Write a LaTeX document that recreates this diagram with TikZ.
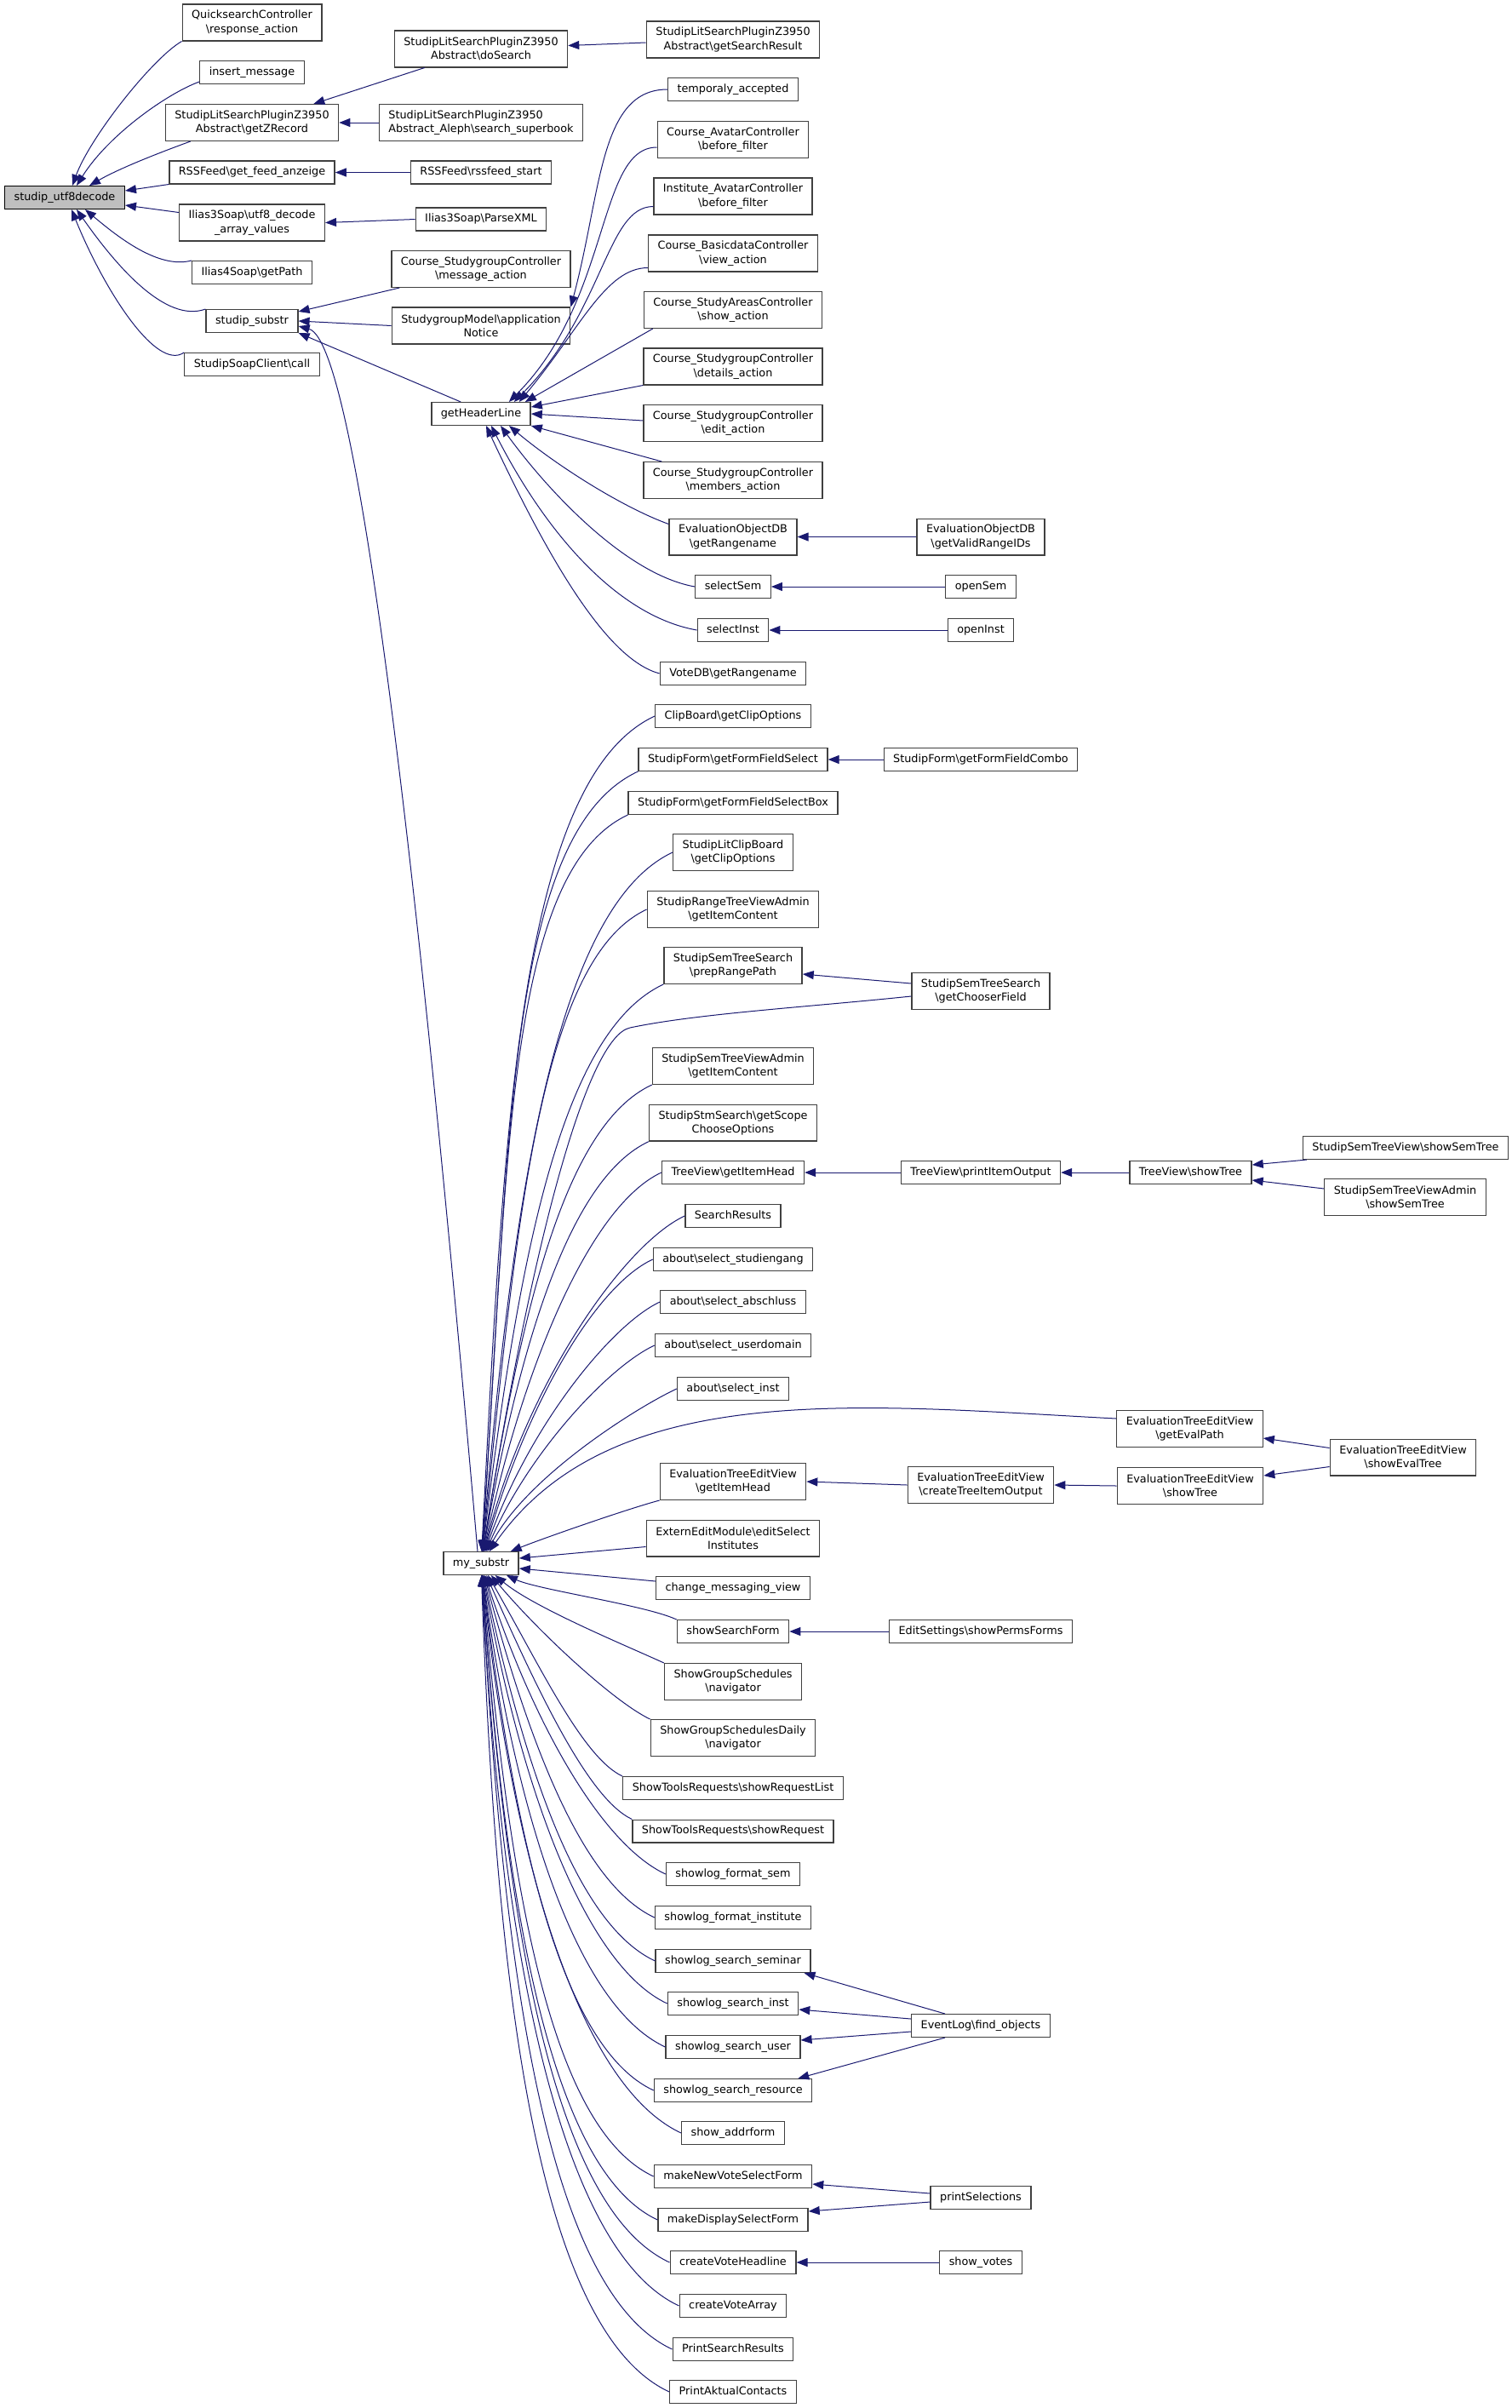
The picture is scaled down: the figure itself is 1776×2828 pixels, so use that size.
\documentclass[tikz,border=0pt]{standalone}
\usepackage{fontspec}
\setmainfont{DejaVu Sans}
\usepackage{tikz}
\usetikzlibrary{arrows.meta}
\definecolor{EdgeBlue}{RGB}{25,25,112}
\definecolor{FocusGray}{RGB}{191,191,191}

\begin{document}
\begin{tikzpicture}[
		x=0.25pt, y=0.25pt,
		% function box
		funcBox/.style={
			draw=black!75,
			fill=white,
			line width=0.33pt,
			inner xsep=2.75pt,
			inner ysep=0pt,
			font=\fontsize{3.2}{4.075}\selectfont
		},
		oneLine/.style={funcBox, minimum height=6.675pt, text height=2.4pt, text depth=0.8pt},
		twoLine/.style={funcBox, align=center, minimum height=10.675pt},
		callEdge/.style={draw=EdgeBlue, line width=0.25pt, -{Triangle[length=3.25pt,width=2.5pt]}}
		]
		\useasboundingbox (0,0) rectangle (1776,-2828);
		
		% focus function
		\node[oneLine, fill=FocusGray, draw=black] (utf8dec) at (76,-232) {studip\_utf8decode};
		
		% first column of callers
		\node[twoLine] (qs) at (296,-26.5) {QuicksearchController\\\textbackslash response\_action};
		\node[oneLine] (insmsg) at (296,-85) {insert\_message};
		\node[twoLine] (zrec) at (296,-144) {StudipLitSearchPluginZ3950\\Abstract\textbackslash getZRecord};
		\node[oneLine] (feed) at (296,-202.5) {RSSFeed\textbackslash get\_feed\_anzeige};
		\node[twoLine] (decarr) at (296,-261.5) {Ilias3Soap\textbackslash utf8\_decode\\\_array\_values};
		\node[oneLine] (ipath) at (296,-320) {Ilias4Soap\textbackslash getPath};
		\node[oneLine] (substr) at (296,-377) {studip\_substr};
		\node[oneLine] (soapcall) at (296,-428) {StudipSoapClient\textbackslash call};
		
		% second column
		\node[twoLine] (dosearch) at (565,-57.5) {StudipLitSearchPluginZ3950\\Abstract\textbackslash doSearch};
		\node[twoLine, align=left] (superbook) at (565,-144) {StudipLitSearchPluginZ3950\\Abstract\_Aleph\textbackslash search\_superbook};
		\node[oneLine] (rssstart) at (565,-202.5) {RSSFeed\textbackslash rssfeed\_start};
		\node[oneLine] (parsexml) at (565,-257.5) {Ilias3Soap\textbackslash ParseXML};
		\node[twoLine] (msgact) at (565,-316) {Course\_StudygroupController\\\textbackslash message\_action};
		\node[twoLine] (appnotice) at (565,-382.5) {StudygroupModel\textbackslash application\\Notice};
		\node[oneLine] (header) at (565,-486) {getHeaderLine};
		\node[oneLine] (mysubstr) at (565,-1836) {my\_substr};
		
		% third column
		\node[twoLine] (searchres) at (861,-46.5) {StudipLitSearchPluginZ3950\\Abstract\textbackslash getSearchResult};
		\node[oneLine] (tempacc) at (861,-105) {temporaly\_accepted};
		\node[twoLine] (cavatar) at (861,-164) {Course\_AvatarController\\\textbackslash before\_filter};
		\node[twoLine] (iavatar) at (861,-230.5) {Institute\_AvatarController\\\textbackslash before\_filter};
		\node[twoLine] (basicdata) at (861,-297.5) {Course\_BasicdataController\\\textbackslash view\_action};
		\node[twoLine] (studyareas) at (861,-364) {Course\_StudyAreasController\\\textbackslash show\_action};
		\node[twoLine] (sgdetails) at (861,-430.5) {Course\_StudygroupController\\\textbackslash details\_action};
		\node[twoLine] (sgedit) at (861,-497) {Course\_StudygroupController\\\textbackslash edit\_action};
		\node[twoLine] (sgmembers) at (861,-564) {Course\_StudygroupController\\\textbackslash members\_action};
		\node[twoLine] (evalrange) at (861,-630.5) {EvaluationObjectDB\\\textbackslash getRangename};
		\node[oneLine] (selsem) at (861,-689) {selectSem};
		\node[oneLine] (selinst) at (861,-740) {selectInst};
		\node[oneLine] (voterange) at (861,-791) {VoteDB\textbackslash getRangename};
		\node[oneLine] (clipopt) at (861,-841) {ClipBoard\textbackslash getClipOptions};
		\node[oneLine] (fieldsel) at (861,-892) {StudipForm\textbackslash getFormFieldSelect};
		\node[oneLine] (fieldselbox) at (861,-943) {StudipForm\textbackslash getFormFieldSelectBox};
		\node[twoLine] (litclip) at (861,-1001) {StudipLitClipBoard\\\textbackslash getClipOptions};
		\node[twoLine] (rangecontent) at (861,-1068) {StudipRangeTreeViewAdmin\\\textbackslash getItemContent};
		\node[twoLine] (preppath) at (861,-1134) {StudipSemTreeSearch\\\textbackslash prepRangePath};
		\node[twoLine] (semcontent) at (861,-1252) {StudipSemTreeViewAdmin\\\textbackslash getItemContent};
		\node[twoLine] (scopeopt) at (861,-1318.7) {StudipStmSearch\textbackslash getScope\\ChooseOptions};
		\node[oneLine] (itemhead) at (861,-1377) {TreeView\textbackslash getItemHead};
		\node[oneLine] (searchresults) at (861,-1428) {SearchResults};
		\node[oneLine] (selstudg) at (861,-1479) {about\textbackslash select\_studiengang};
		\node[oneLine] (selabschl) at (861,-1529) {about\textbackslash select\_abschluss};
		\node[oneLine] (seldomain) at (861,-1580) {about\textbackslash select\_userdomain};
		\node[oneLine] (selabinst) at (861,-1631) {about\textbackslash select\_inst};
		\node[twoLine] (evalhead) at (861,-1740) {EvaluationTreeEditView\\\textbackslash getItemHead};
		\node[twoLine] (editinst) at (861,-1806.5) {ExternEditModule\textbackslash editSelect\\Institutes};
		\node[oneLine] (msgview) at (861,-1865) {change\_messaging\_view};
		\node[oneLine] (searchform) at (861,-1916) {showSearchForm};
		\node[twoLine] (grpnav) at (861,-1975) {ShowGroupSchedules\\\textbackslash navigator};
		\node[twoLine] (grpdaily) at (861,-2041) {ShowGroupSchedulesDaily\\\textbackslash navigator};
		\node[oneLine] (reqlist) at (861,-2100) {ShowToolsRequests\textbackslash showRequestList};
		\node[oneLine] (request) at (861,-2150.5) {ShowToolsRequests\textbackslash showRequest};
		\node[oneLine] (fmtsem) at (861,-2201) {showlog\_format\_sem};
		\node[oneLine] (fmtinst) at (861,-2252) {showlog\_format\_institute};
		\node[oneLine] (srchsem) at (861,-2303) {showlog\_search\_seminar};
		\node[oneLine] (srchinst) at (861,-2353) {showlog\_search\_inst};
		\node[oneLine] (srchuser) at (861,-2404) {showlog\_search\_user};
		\node[oneLine] (srchres) at (861,-2455) {showlog\_search\_resource};
		\node[oneLine] (addrform) at (861,-2505) {show\_addrform};
		\node[oneLine] (newvote) at (861,-2556) {makeNewVoteSelectForm};
		\node[oneLine] (dispsel) at (861,-2607) {makeDisplaySelectForm};
		\node[oneLine] (voteheadline) at (861,-2657) {createVoteHeadline};
		\node[oneLine] (votearray) at (861,-2708) {createVoteArray};
		\node[oneLine] (printsearch) at (861,-2759) {PrintSearchResults};
		\node[oneLine] (printcontacts) at (861,-2809) {PrintAktualContacts};
		
		% fourth column
		\node[twoLine] (validrange) at (1152,-630.5) {EvaluationObjectDB\\\textbackslash getValidRangeIDs};
		\node[oneLine] (opensem) at (1152,-689) {openSem};
		\node[oneLine] (openinst) at (1152,-740) {openInst};
		\node[oneLine] (fieldcombo) at (1152,-892) {StudipForm\textbackslash getFormFieldCombo};
		\node[twoLine] (chooser) at (1152,-1164) {StudipSemTreeSearch\\\textbackslash getChooserField};
		\node[oneLine] (printitem) at (1152,-1377) {TreeView\textbackslash printItemOutput};
		\node[twoLine] (treeitem) at (1152,-1744) {EvaluationTreeEditView\\\textbackslash createTreeItemOutput};
		\node[oneLine] (permsforms) at (1152,-1916) {EditSettings\textbackslash showPermsForms};
		\node[oneLine] (findobj) at (1152,-2379) {EventLog\textbackslash find\_objects};
		\node[oneLine] (printsel) at (1152,-2581) {printSelections};
		\node[oneLine] (showvotes) at (1152,-2657) {show\_votes};
		
		% fifth and sixth columns
		\node[oneLine] (showtree) at (1398.5,-1377) {TreeView\textbackslash showTree};
		\node[twoLine] (evalpath) at (1397.5,-1678) {EvaluationTreeEditView\\\textbackslash getEvalPath};
		\node[twoLine] (evaltree) at (1398,-1745) {EvaluationTreeEditView\\\textbackslash showTree};
		\node[oneLine] (semtree) at (1651,-1348) {StudipSemTreeView\textbackslash showSemTree};
		\node[twoLine] (admsemtree) at (1650.5,-1406) {StudipSemTreeViewAdmin\\\textbackslash showSemTree};
		\node[twoLine] (evalshow) at (1648,-1711.5) {EvaluationTreeEditView\\\textbackslash showEvalTree};
		
		% calls into studip_utf8decode
		\draw[callEdge] (qs.south west) to[out=210, in=70, out distance=10pt, in distance=15pt] ([shift={(9,0)}]utf8dec.north);
		\draw[callEdge] ([shift={(0,3)}]insmsg.south west) to[out=200, in=58, out distance=10pt, in distance=17.5pt] ([shift={(14,0)}]utf8dec.north);
		\draw[callEdge] ([shift={(30,0)}]zrec.south west) to[out=200, in=30, out distance=10pt, in distance=10pt] ([shift={(29,0)}]utf8dec.north);
		\draw[callEdge] (feed.south west) -- ([shift={(0,8)}]utf8dec.east);
		\draw[callEdge] ([shift={(0,12)}]decarr.west) -- ([shift={(0,-9)}]utf8dec.east);
		\draw[callEdge] (ipath.north west) to[out=195, in=-40, out distance=10pt, in distance=12.5pt] ([shift={(24,0)}]utf8dec.south);
		\draw[callEdge] (substr.north west) to[out=200, in=-55, out distance=12.5pt, in distance=20pt] ([shift={(14,0)}]utf8dec.south);
		\draw[callEdge] (soapcall.north west) to[out=215, in=-68, out distance=10pt, in distance=25pt] ([shift={(8,0)}]utf8dec.south);
		
		% second level calls
		\draw[callEdge] ([shift={(36,0)}]dosearch.south west) -- ([shift={(-30,0)}]zrec.north east);
		\draw[callEdge] (superbook.west) -- (zrec.east);
		\draw[callEdge] ([shift={(0,-3.5)}]searchres.west) -- ([shift={(0,4)}]dosearch.east);
		\draw[callEdge] (rssstart) -- (feed);
		\draw[callEdge] (parsexml.west) -- (decarr.east);
		\draw[callEdge] ([shift={(10,0)}]msgact.south west) -- ([shift={(0,-3)}]substr.north east);
		\draw[callEdge] (appnotice.west) -- (substr.east);
		\draw[callEdge] ([shift={(35,0)}]header.north west) -- (substr.south east);
		\draw[callEdge] ([shift={(-4,0)}]mysubstr.north) to[out=95, in=-15, out distance=150pt, in distance=20pt] ([shift={(0,-6)}]substr.east);
		\draw[callEdge] (tempacc.west) to[out=180, in=75, out distance=20pt, in distance=35pt] (appnotice.north east);
		
		% calls into getHeaderLine
		\draw[callEdge] ([shift={(0,-9)}]cavatar.west) to[out=180, in=45, out distance=17.5pt, in distance=42.5pt] ([shift={(-26,0)}]header.north east);
		\draw[callEdge] ([shift={(0,-12)}]iavatar.west) to[out=180, in=45, out distance=13.75pt, in distance=37.5pt] ([shift={(-20,0)}]header.north east);
		\draw[callEdge] ([shift={(0,-17)}]basicdata.west) to[out=180, in=50, out distance=12.5pt, in distance=27.5pt] ([shift={(-14,0)}]header.north east);
		\draw[callEdge] ([shift={(11,0)}]studyareas.south west) -- ([shift={(-7,0)}]header.north east);
		\draw[callEdge] (sgdetails.south west) -- ([shift={(0,8)}]header.east);
		\draw[callEdge] ([shift={(0,3)}]sgedit.west) -- (header.east);
		\draw[callEdge] ([shift={(22,0)}]sgmembers.north west) -- (header.south east);
		\draw[callEdge] ([shift={(0,15)}]evalrange.west) to[out=160, in=-40, out distance=15pt, in distance=17.5pt] ([shift={(33,0)}]header.south);
		\draw[callEdge] (selsem.west) to[out=170, in=-54, out distance=20pt, in distance=25pt] ([shift={(23,0)}]header.south);
		\draw[callEdge] (selinst.west) to[out=170, in=-63, out distance=22.5pt, in distance=37.5pt] ([shift={(12,0)}]header.south);
		\draw[callEdge] (voterange.west) to[out=165, in=-65, out distance=15pt, in distance=47.5pt] ([shift={(6,0)}]header.south);
		
		% outer calls
		\draw[callEdge] (validrange) -- (evalrange);
		\draw[callEdge] (opensem) -- (selsem);
		\draw[callEdge] (openinst) -- (selinst);
		\draw[callEdge] (fieldcombo) -- (fieldsel);
		\draw[callEdge] ([shift={(0,9)}]chooser.west) -- ([shift={(0,-10)}]preppath.east);
		\draw[callEdge] (printitem) -- (itemhead);
		\draw[callEdge] (showtree) -- (printitem);
		\draw[callEdge] ([shift={(5,0)}]semtree.south west) -- ([shift={(0,9)}]showtree.east);
		\draw[callEdge] ([shift={(0,10)}]admsemtree.west) -- ([shift={(0,-9)}]showtree.east);
		\draw[callEdge] ([shift={(0,11)}]evalshow.west) -- ([shift={(0,-11)}]evalpath.east);
		\draw[callEdge] ([shift={(0,-11)}]evalshow.west) -- ([shift={(0,12)}]evaltree.east);
		\draw[callEdge] (evaltree.west) -- (treeitem.east);
		\draw[callEdge] (treeitem.west) -- (evalhead.east);
		\draw[callEdge] (permsforms) -- (searchform);
		\draw[callEdge] ([shift={(40,0)}]findobj.north west) -- ([shift={(-8,0)}]srchsem.south east);
		\draw[callEdge] ([shift={(0,8)}]findobj.west) -- ([shift={(0,-7)}]srchinst.east);
		\draw[callEdge] ([shift={(0,-7)}]findobj.west) -- ([shift={(0,8)}]srchuser.east);
		\draw[callEdge] ([shift={(40,0)}]findobj.south west) -- ([shift={(-17,0)}]srchres.north east);
		\draw[callEdge] ([shift={(0,5)}]printsel.west) -- ([shift={(0,-9)}]newvote.east);
		\draw[callEdge] ([shift={(0,-5)}]printsel.west) -- ([shift={(0,10)}]dispsel.east);
		\draw[callEdge] (showvotes) -- (voteheadline);
		
		% calls into my_substr from above
		\foreach \src/\anc/\ang/\indist/\outdist in {
			clipopt/west/87/124/44, fieldsel/south west/86/118/43,
			fieldselbox/south west/86/111/40, litclip/west/85/104/38,
			rangecontent/west/84/95/35, preppath/south west/83/88/33,
			semcontent/south west/81/73/28, scopeopt/south west/80/64/25,
			itemhead/west/78/56/23, searchresults/west/76/50/20,
			selstudg/west/74/44/19, selabschl/west/71/38/16,
			seldomain/west/67/31/15, selabinst/west/62/25/13}
		\draw[callEdge] (\src.\anc) to[out=205, in=\ang, out distance=\outdist pt, in distance=\indist pt] (mysubstr);
		
		% calls into my_substr from below
		\foreach \src/\anc/\ang/\indist/\outdist in {
			searchform/north west/-25/10/10, grpnav/north west/-40/15/10,
			grpdaily/north west/-50/23/11, reqlist/north west/-60/30/13,
			request/north west/-66/38/14, fmtsem/west/-72/45/21,
			fmtinst/west/-75/53/23, srchsem/west/-78/59/25,
			srchinst/west/-80/65/26, srchuser/west/-82/71/29,
			srchres/west/-83/78/30, addrform/west/-84/84/33,
			newvote/west/-85/90/34, dispsel/west/-86/96/35,
			voteheadline/west/-86/103/38, votearray/west/-87/109/39,
			printsearch/west/-87/115/41, printcontacts/west/-88/120/43}
		\draw[callEdge] (\src.\anc) to[out=155, in=\ang, out distance=\outdist pt, in distance=\indist pt] (mysubstr);
		
		% remaining calls into my_substr
		\draw[callEdge] (evalhead.south west) to[out=195, in=22, out distance=10pt, in distance=10pt] (mysubstr);
		\draw[callEdge] ([shift={(0,-10)}]editinst.west) -- ([shift={(0,6)}]mysubstr.east);
		\draw[callEdge] ([shift={(0,8)}]msgview.west) -- ([shift={(0,-6)}]mysubstr.east);
		\draw[callEdge] ([shift={(0,-6)}]chooser.west) to[out=186, in=12, out distance=30pt, in distance=20pt] (740,-1207)
			to[out=192, in=81, out distance=12.5pt, in distance=95pt] (mysubstr);
		\draw[callEdge] ([shift={(0,12)}]evalpath.west) to[out=177, in=55, out distance=75pt, in distance=62.5pt] (mysubstr);
		
	\end{tikzpicture}
\end{document}
